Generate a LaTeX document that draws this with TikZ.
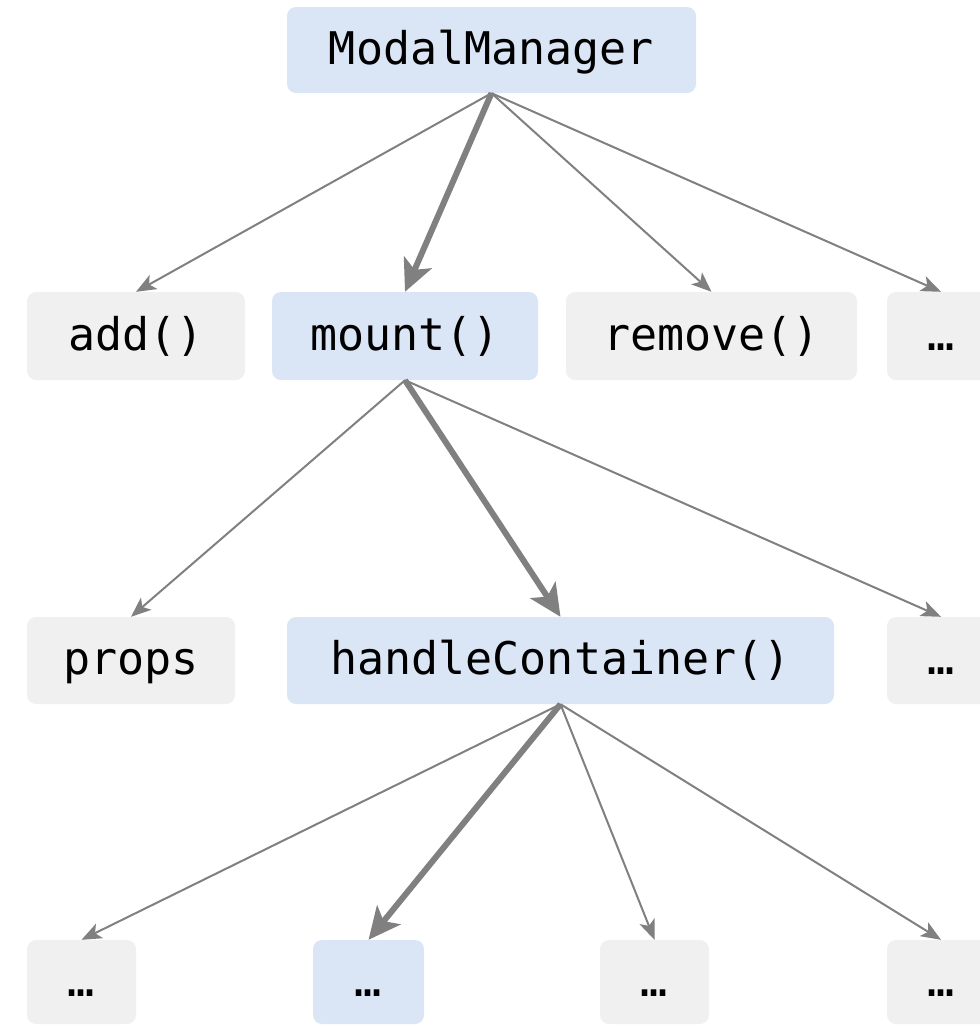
\documentclass[tikz,border=0pt]{standalone}
\usepackage{fontspec}
\setmonofont{DejaVu Sans Mono}
\usetikzlibrary{arrows.meta}
\definecolor{bluefill}{HTML}{DAE5F5}
\definecolor{grayfill}{HTML}{F0F0F0}
\definecolor{edgegray}{HTML}{808080}
\begin{document}
\begin{tikzpicture}[x=1pt,y=-1pt,
  box/.style={rounded corners=9pt, inner sep=0pt, font=\ttfamily\fontsize{45}{52}\selectfont,
    text height=34pt, text depth=6pt},
  hot/.style={box, fill=bluefill},
  cold/.style={box, fill=grayfill},
  thin/.style={draw=edgegray, line width=2pt, -{Stealth[length=20pt,width=16pt,inset=5pt]}},
  thick/.style={draw=edgegray, line width=6pt, -{Stealth[length=32pt,width=30pt,inset=8pt]}}]
\useasboundingbox (0,0) rectangle (980,1026);
% row 0
\node[hot, minimum width=409pt, minimum height=86pt] (mm) at (491.5,50) {ModalManager};
% row 1
\node[cold, minimum width=218pt, minimum height=88pt] (add) at (136,336) {add()};
\node[hot, minimum width=266pt, minimum height=88pt] (mount) at (405,336) {mount()};
\node[cold, minimum width=291pt, minimum height=88pt] (remove) at (711.5,336) {remove()};
\node[cold, minimum width=108pt, minimum height=88pt] (d1) at (941,336) {…};
% row 2
\node[cold, minimum width=208pt, minimum height=87pt] (props) at (131,660.5) {props};
\node[hot, minimum width=547pt, minimum height=87pt] (hc) at (560.5,660.5) {handleContainer()};
\node[cold, minimum width=108pt, minimum height=87pt] (d2) at (941,660.5) {…};
% row 3
\node[cold, minimum width=109pt, minimum height=84pt] (e1) at (81.5,982) {…};
\node[hot, minimum width=111pt, minimum height=84pt] (e2) at (368.5,982) {…};
\node[cold, minimum width=109pt, minimum height=84pt] (e3) at (654.5,982) {…};
\node[cold, minimum width=108pt, minimum height=84pt] (e4) at (941,982) {…};
% edges
\draw[thin] (mm.south) -- (add.north);
\draw[thick] (mm.south) -- (mount.north);
\draw[thin] (mm.south) -- (remove.north);
\draw[thin] (mm.south) -- (d1.north);
\draw[thin] (mount.south) -- (props.north);
\draw[thick] (mount.south) -- (hc.north);
\draw[thin] (mount.south) -- (d2.north);
\draw[thin] (hc.south) -- (e1.north);
\draw[thick] (hc.south) -- (e2.north);
\draw[thin] (hc.south) -- (e3.north);
\draw[thin] (hc.south) -- (e4.north);
\end{tikzpicture}
\end{document}
